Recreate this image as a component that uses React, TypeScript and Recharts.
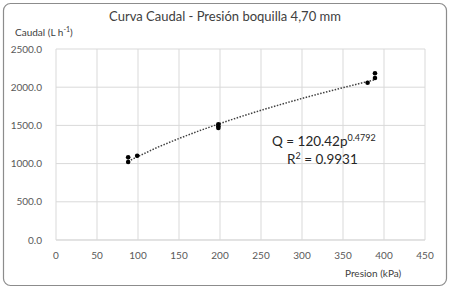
import React from "react";
import { ScatterChart, Scatter, XAxis, YAxis, CartesianGrid, Customized } from "recharts";

const presion = [88, 88, 99, 198, 198, 198, 380, 389, 389];
const caudal = [1082, 1021, 1103, 1515, 1490, 1465, 2059, 2120, 2182];

const trendP = [88, 100, 125, 150, 175, 200, 225, 250, 275, 300, 325, 350, 375, 389];
const trendQ = [1029, 1094, 1219, 1329, 1431, 1525, 1614, 1698, 1777, 1853, 1925, 1994, 2061, 2098];

const xTicks = [0, 50, 100, 150, 200, 250, 300, 350, 400, 450];
const yTicks = [0, 500, 1000, 1500, 2000, 2500];

const title = "Curva Caudal - Presión boquilla 4,70 mm";
const yTitle = "Caudal (L h";
const xTitle = "Presion (kPa)";
const eqMain = "Q = 120.42p";
const eqExp = "0.4792";
const r2Value = " = 0.9931";

const points = presion.map((p, i) => ({ x: p, y: caudal[i] }));
const trend = trendP.map((p, i) => ({ x: p, y: trendQ[i] }));

const FONT = "Lato, 'Open Sans', sans-serif";

const Overlay = () => (
  <g fontFamily={FONT} fill="#404040">
    <rect x={3.5} y={3.5} width={443} height={282} rx={7} ry={7} fill="none" stroke="#8c8c8c" strokeWidth={1.2} />
    <text x={225} y={21} textAnchor="middle" fontSize={13} fill="#404040">{title}</text>
    <text x={15} y={36} fontSize={10} fill="#404040">
      {yTitle}
      <tspan fontSize={7} dy={-4}>-1</tspan>
      <tspan fontSize={10} dy={4}>)</tspan>
    </text>
    <text x={345} y={277} fontSize={10} fill="#404040">{xTitle}</text>
    <text x={272} y={146} fontSize={13.5} fill="#262626">
      {eqMain}
      <tspan fontSize={9} dy={-5}>{eqExp}</tspan>
    </text>
    <text x={287} y={164} fontSize={13.5} fill="#262626">
      R<tspan fontSize={9} dy={-5}>2</tspan>
      <tspan dy={5}>{r2Value}</tspan>
    </text>
  </g>
);

export default function App() {
  return (
    <div style={{ position: "absolute", left: 0, top: 0, width: 450, height: 290, background: "#ffffff" }}>
      <ScatterChart width={450} height={290} margin={{ top: 49, right: 25, bottom: 20, left: 0 }}>
        <CartesianGrid stroke="#d9d9d9" strokeWidth={1} />
        <XAxis
          type="number"
          dataKey="x"
          domain={[0, 450]}
          ticks={xTicks}
          axisLine={{ stroke: "#d9d9d9" }}
          tickLine={false}
          tick={{ fontSize: 10, fill: "#595959", fontFamily: FONT }}
          height={30}
          tickMargin={6}
        />
        <YAxis
          type="number"
          dataKey="y"
          domain={[0, 2500]}
          ticks={yTicks}
          axisLine={false}
          tickLine={false}
          width={56}
          tickMargin={8}
          tickFormatter={(v: number) => v.toFixed(1)}
          tick={{ fontSize: 10, fill: "#595959", fontFamily: FONT }}
        />
        <Scatter
          data={trend}
          isAnimationActive={false}
          line={{ stroke: "#404040", strokeWidth: 1.5, strokeDasharray: "1.5 1.5" }}
          lineType="joint"
          shape={() => <g />}
        />
        <Scatter data={points} isAnimationActive={false} fill="#000000" shape={(props: any) => <circle cx={props.cx} cy={props.cy} r={2.3} fill="#000" />} />
        <Customized component={Overlay} />
      </ScatterChart>
    </div>
  );
}
